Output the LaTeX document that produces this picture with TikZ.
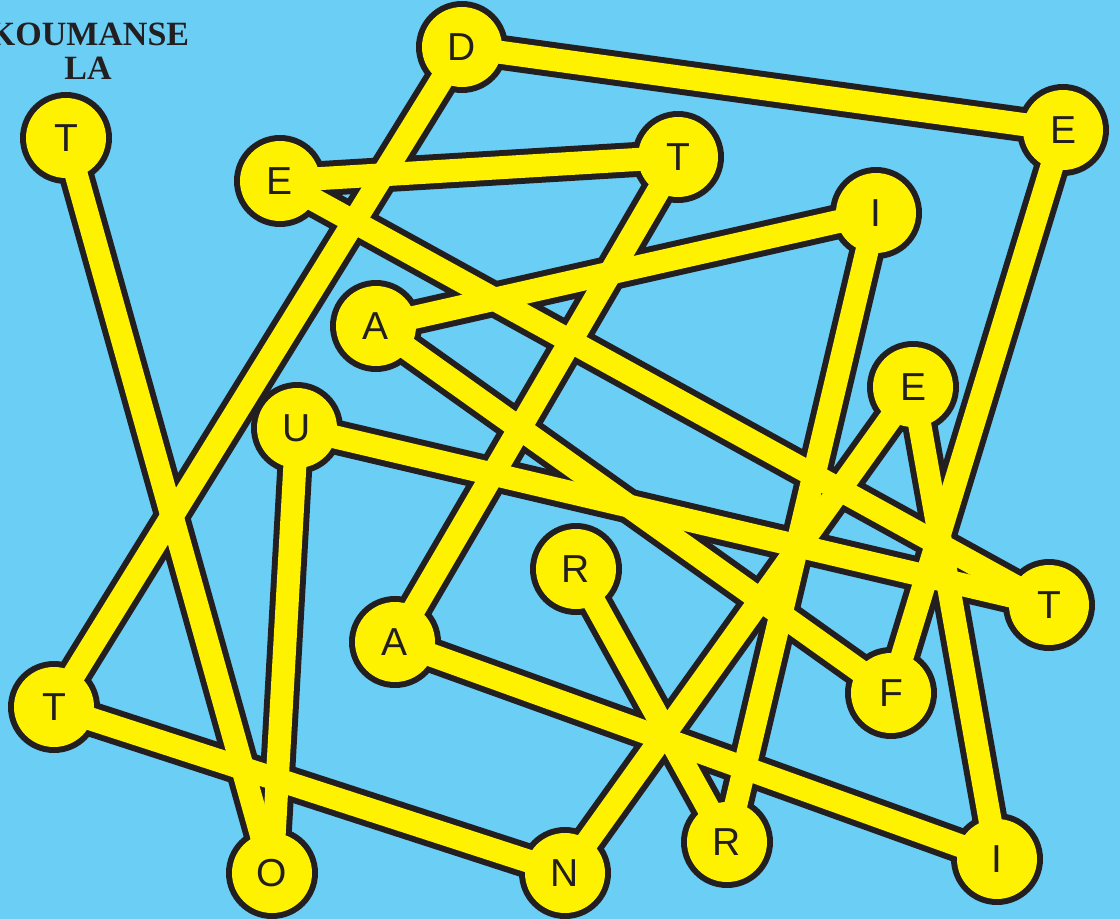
\documentclass[tikz,border=0pt]{standalone}
\usepackage{fontspec}
\setmainfont{Liberation Sans}
\newfontfamily\titlefont{Liberation Serif}
\definecolor{bgblue}{RGB}{106,206,245}
\definecolor{yel}{RGB}{255,242,0}
\definecolor{ink}{RGB}{35,31,32}
\pgfdeclarelayer{backg}
\pgfdeclarelayer{outline}
\pgfdeclarelayer{band}
\pgfsetlayers{backg,outline,band,main}
\tikzset{
  letter/.style={circle, fill=yel, minimum size=80pt, inner sep=0pt, text=ink,
    font=\fontsize{39}{39}\selectfont},
  darkband/.style={draw=ink, line width=35pt},
  yelband/.style={draw=yel, line width=23pt},
  titletext/.style={text=ink, font=\titlefont\bfseries\fontsize{34}{34}\selectfont, inner sep=0pt}
}
\begin{document}
\begin{tikzpicture}[x=1pt,y=-1pt]
\begin{pgfonlayer}{backg}
\fill[bgblue] (0,0) rectangle (1120,919);
\end{pgfonlayer}
\useasboundingbox (0,0) rectangle (1120,919);
\node[titletext, anchor=base] (title1) at (89,45) {KOUMANSE};
\node[titletext, anchor=base] (title2) at (88,79) {LA};
\node[letter] (T1) at (66,138) {T};
\node[letter] (D) at (462,47) {D};
\node[letter] (E1) at (1063,130) {E};
\node[letter] (E2) at (280,181) {E};
\node[letter] (T2) at (678,157) {T};
\node[letter] (I1) at (876,213) {I};
\node[letter] (A1) at (376,326) {A};
\node[letter] (E3) at (913,387) {E};
\node[letter] (U) at (297,428) {U};
\node[letter] (R1) at (576,569) {R};
\node[letter] (A2) at (395,642) {A};
\node[letter] (T3) at (1049,605) {T};
\node[letter] (F) at (891,693) {F};
\node[letter] (T4) at (54,707) {T};
\node[letter] (O) at (272,873) {O};
\node[letter] (N) at (565,873) {N};
\node[letter] (R2) at (727,842) {R};
\node[letter] (I2) at (997,859) {I};
\begin{pgfonlayer}{outline}
\foreach \n in {T1,D,E1,E2,T2,I1,A1,E3,U,R1,A2,T3,F,T4,O,N,R2,I2}
  \fill[ink] (\n.center) circle (46);
\foreach \a/\b in {T1/O,O/U,U/T3,T3/E2,E2/T2,T2/A2,A2/I2,I2/E3,E3/N,N/T4,T4/D,D/E1,E1/F,F/A1,A1/I1,I1/R2,R2/R1}
  \draw[darkband] (\a.center) -- (\b.center);
\end{pgfonlayer}
\begin{pgfonlayer}{band}
\foreach \a/\b in {T1/O,O/U,U/T3,T3/E2,E2/T2,T2/A2,A2/I2,I2/E3,E3/N,N/T4,T4/D,D/E1,E1/F,F/A1,A1/I1,I1/R2,R2/R1}
  \draw[yelband] (\a.center) -- (\b.center);
\end{pgfonlayer}
\end{tikzpicture}
\end{document}
